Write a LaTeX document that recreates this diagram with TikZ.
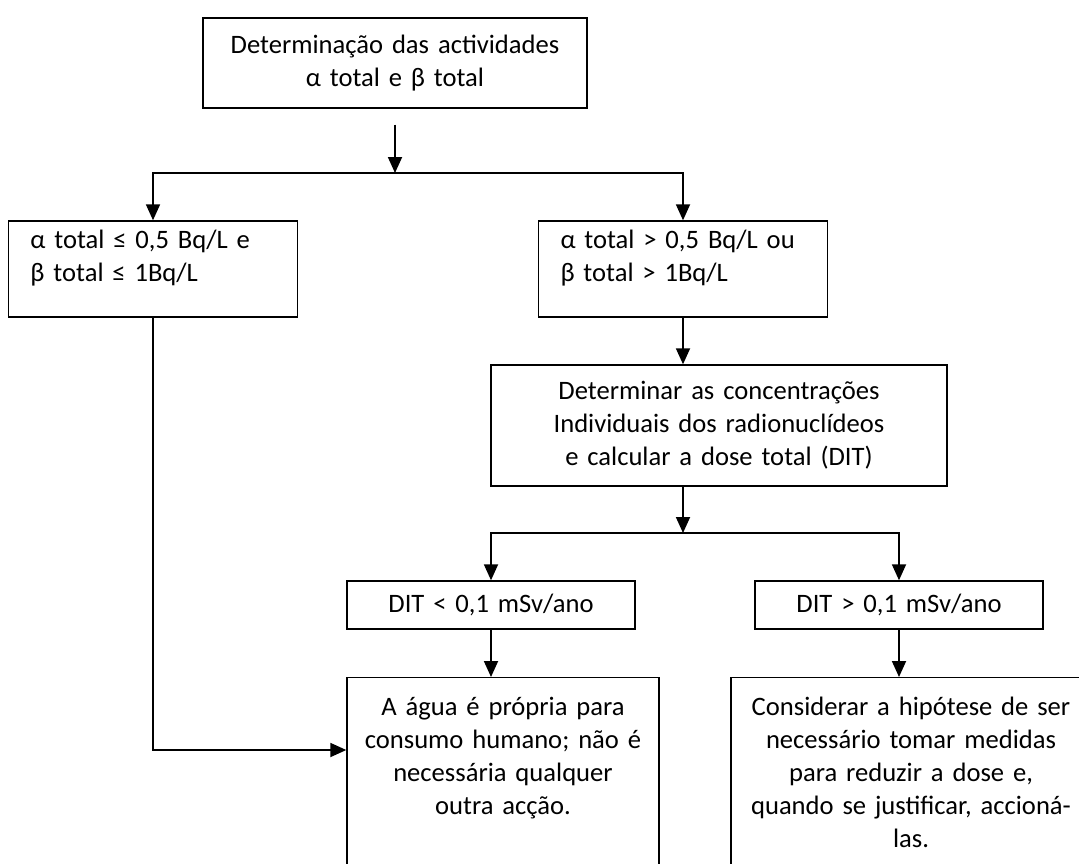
\documentclass[tikz,border=0pt]{standalone}
\usepackage{fontspec}
\setmainfont{Carlito}
\usetikzlibrary{arrows.meta}
\tikzset{
% Box styles for the flow chart: plain, condition and result boxes
flow box/.style={draw,line width=1.4pt,inner sep=0pt,align=center},
cond box/.style={flow box,align=left,text width=245pt,inner xsep=22pt,text height=27pt,text depth=69pt},
end box/.style={flow box,anchor=north,inner xsep=6pt,text height=38pt,text depth=222pt},
flow arrow/.style={line width=1.8pt,-{Triangle[length=16pt,width=14pt]}}
}

\begin{document}
\begin{tikzpicture}[x=1pt,y=-1pt,font=\fontsize{26.6}{33}\selectfont]
\useasboundingbox (0,0) rectangle (1079,863);
\clip (0,0) rectangle (1079,863);
% The boxes
\node(total)[flow box,text width=340pt,inner xsep=22pt,minimum height=90pt] at (395,63)
{Determinação das actividades\\ α total e β total};
\node(low)[cond box] at (153,269) {α total ≤ 0,5 Bq/L e\\ β total ≤ 1Bq/L};
\node(high)[cond box] at (683,269) {α total > 0,5 Bq/L ou\\ β total > 1Bq/L};
\node(conc)[flow box,text width=412pt,inner xsep=22pt,minimum height=121pt] at (719,425.5)
{Determinar as concentrações\\ Individuais dos radionuclídeos\\ e calcular a dose total (DIT)};
\node(dlow)[flow box,text width=288pt,minimum height=48pt] at (491,605) {DIT < 0,1 mSv/ano};
\node(dhigh)[flow box,text width=288pt,minimum height=48pt] at (899,605) {DIT > 0,1 mSv/ano};
\node(agua)[end box,text width=300pt] at (503,677)
{A água é própria para\\ consumo humano; não é\\ necessária qualquer\\ outra acção.};
\node(acao)[end box,text width=348pt] at (911,677)
{Considerar a hipótese de ser\\ necessário tomar medidas\\ para reduzir a dose e,\\ quando se justificar, accioná-\\ las.};
% The branch points
\coordinate(fork1) at (395,173);
\coordinate(fork2) at (683,533);
% The arrows
\draw[flow arrow] ([yshift=-16pt]total.south) -- (fork1);
\draw[flow arrow] (fork1) -| (low.north);
\draw[flow arrow] (fork1) -| (high.north);
\draw[flow arrow] (high.south) -- (high.south |- conc.north);
\draw[flow arrow] (fork2 |- conc.south) -- (fork2);
\draw[flow arrow] (fork2) -| (dlow.north);
\draw[flow arrow] (fork2) -| (dhigh.north);
\draw[flow arrow] (dlow.south) -- (dlow.south |- agua.north);
\draw[flow arrow] (dhigh.south) -- (dhigh.south |- acao.north);
\draw[flow arrow] (low.south) |- ([yshift=-73pt]agua.north west);
\end{tikzpicture}
\end{document}
